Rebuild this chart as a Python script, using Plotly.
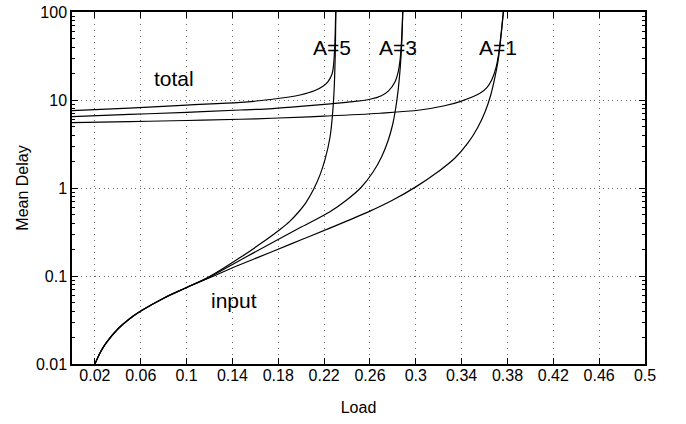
import plotly.graph_objects as go

# Input-queue delay versus load, one curve per A
input_a1_load = [0.02, 0.025, 0.03, 0.04, 0.05, 0.06, 0.08, 0.10, 0.12, 0.147, 0.175, 0.20,
                 0.225, 0.26, 0.28, 0.30, 0.32, 0.3342, 0.3455, 0.3538, 0.3604, 0.3654,
                 0.3691, 0.3719, 0.3742, 0.3764]
input_a1_delay = [0.01, 0.0138, 0.0175, 0.025, 0.0325, 0.040, 0.056, 0.074, 0.0955, 0.135, 0.19, 0.258,
                  0.35, 0.546, 0.73, 1.03, 1.55, 2.19, 3.25, 4.81, 7.31, 11.4,
                  18.3, 28.5, 50.6, 100]

input_a3_load = [0.02, 0.025, 0.03, 0.04, 0.05, 0.06, 0.08, 0.10, 0.12, 0.147, 0.175, 0.20,
                 0.2251, 0.2397, 0.2522, 0.2627, 0.2701, 0.2757, 0.2797, 0.2825, 0.2847,
                 0.2864, 0.2876, 0.2886]
input_a3_delay = [0.01, 0.0138, 0.0175, 0.025, 0.0325, 0.040, 0.056, 0.074, 0.097, 0.152, 0.24, 0.36,
                  0.538, 0.731, 1.013, 1.52, 2.25, 3.42, 5.2, 8.11, 13.3,
                  23.1, 41.1, 100]

input_a5_load = [0.02, 0.025, 0.03, 0.04, 0.05, 0.06, 0.08, 0.10, 0.12, 0.147, 0.165, 0.1815,
                 0.19, 0.1975, 0.204, 0.2106, 0.2165, 0.2208, 0.2251, 0.2275, 0.2288, 0.2295,
                 0.2299, 0.2302]
input_a5_delay = [0.01, 0.0138, 0.0175, 0.025, 0.0325, 0.040, 0.056, 0.074, 0.0985, 0.163, 0.235, 0.338,
                  0.418, 0.53, 0.679, 0.954, 1.42, 2.11, 3.75, 7.31, 13.7, 25.7,
                  45, 100]

# Total delay versus load
total_a1_load = [0.0, 0.05, 0.10, 0.147, 0.1745, 0.22, 0.2688, 0.3037, 0.325, 0.3386, 0.356,
                 0.362, 0.3662, 0.370, 0.372, 0.3742, 0.3764]
total_a1_delay = [5.52, 5.68, 5.85, 6.04, 6.2, 6.55, 7.07, 7.7, 8.6, 9.6, 11.9,
                  13.8, 16.9, 23.3, 31.6, 53.4, 100]

total_a3_load = [0.0, 0.05, 0.10, 0.147, 0.175, 0.2018, 0.2255, 0.2455, 0.26, 0.27, 0.276, 0.2818,
                 0.2847, 0.2862, 0.2872, 0.2880, 0.2886]
total_a3_delay = [6.46, 6.85, 7.25, 7.7, 8.0, 8.5, 9.05, 9.6, 10.2, 11.2, 12.6, 16,
                  21, 28, 40, 60, 100]

total_a5_load = [0.0, 0.05, 0.10, 0.147, 0.175, 0.199, 0.212, 0.2193, 0.2234, 0.2266, 0.2277,
                 0.2286, 0.2295, 0.2301]
total_a5_delay = [7.56, 8.1, 8.75, 9.4, 10.2, 11.4, 12.8, 14.4, 16.2, 19.2, 22,
                  28.5, 48, 100]

x_ticks = [0.02, 0.06, 0.1, 0.14, 0.18, 0.22, 0.26, 0.3, 0.34, 0.38, 0.42, 0.46, 0.5]
x_tick_text = ["0.02", "0.06", "0.1", "0.14", "0.18", "0.22", "0.26", "0.3", "0.34",
               "0.38", "0.42", "0.46", "0.5"]
y_ticks = [0.01, 0.1, 1, 10, 100]
y_tick_text = ["0.01", "0.1", "1", "10", "100"]
y_minor = [m * 10 ** e for e in range(-2, 2) for m in range(2, 10)]

FONT = "Liberation Sans, Arial, Helvetica, sans-serif"

fig = go.Figure()
curves = [
    (total_a5_load, total_a5_delay), (total_a3_load, total_a3_delay), (total_a1_load, total_a1_delay),
    (input_a5_load, input_a5_delay), (input_a3_load, input_a3_delay), (input_a1_load, input_a1_delay),
]
for xs, ys in curves:
    fig.add_trace(go.Scatter(
        x=xs, y=ys, mode="lines",
        line=dict(color="black", width=1.2, shape="spline", smoothing=1.0),
        showlegend=False, hoverinfo="skip",
    ))

axis_common = dict(
    automargin=False,
    showline=True, linecolor="black", linewidth=1.5, mirror="allticks",
    ticks="inside", ticklen=6, tickcolor="black", tickwidth=1,
    showgrid=True, gridcolor="#666", gridwidth=1,
    zeroline=False,
    tickfont=dict(family=FONT, size=16, color="black"),
)

fig.update_xaxes(
    **axis_common,
    range=[0, 0.5], tickmode="array", tickvals=x_ticks, ticktext=x_tick_text,
    griddash="1px,5px", ticklabelstandoff=-4,
    title=dict(text="Load", font=dict(family=FONT, size=16, color="black"), standoff=19),
)
fig.update_yaxes(
    **axis_common,
    type="log", range=[-2, 2], tickmode="array", tickvals=y_ticks, ticktext=y_tick_text,
    griddash="1px,3.5px",
    minor=dict(ticks="inside", ticklen=3.5, tickcolor="black", tickvals=y_minor, showgrid=False),
    title=dict(text="Mean Delay", font=dict(family=FONT, size=16, color="black"), standoff=3),
)

labels = [
    ("A=5", 0.2269, 1.60),
    ("A=3", 0.2847, 1.60),
    ("A=1", 0.372, 1.60),
    ("total", 0.0886, 1.25),
    ("input", 0.1414, -1.28),
]
for text, lx, ly in labels:
    fig.add_annotation(
        x=lx, y=ly, xref="x", yref="y", text=text, showarrow=False,
        xanchor="center", yanchor="middle",
        font=dict(family=FONT, size=21, color="black"),
    )

fig.update_layout(
    width=686, height=424,
    margin=dict(l=72, r=41, t=12, b=60),
    paper_bgcolor="white", plot_bgcolor="white",
)

fig.write_html("out.html")
